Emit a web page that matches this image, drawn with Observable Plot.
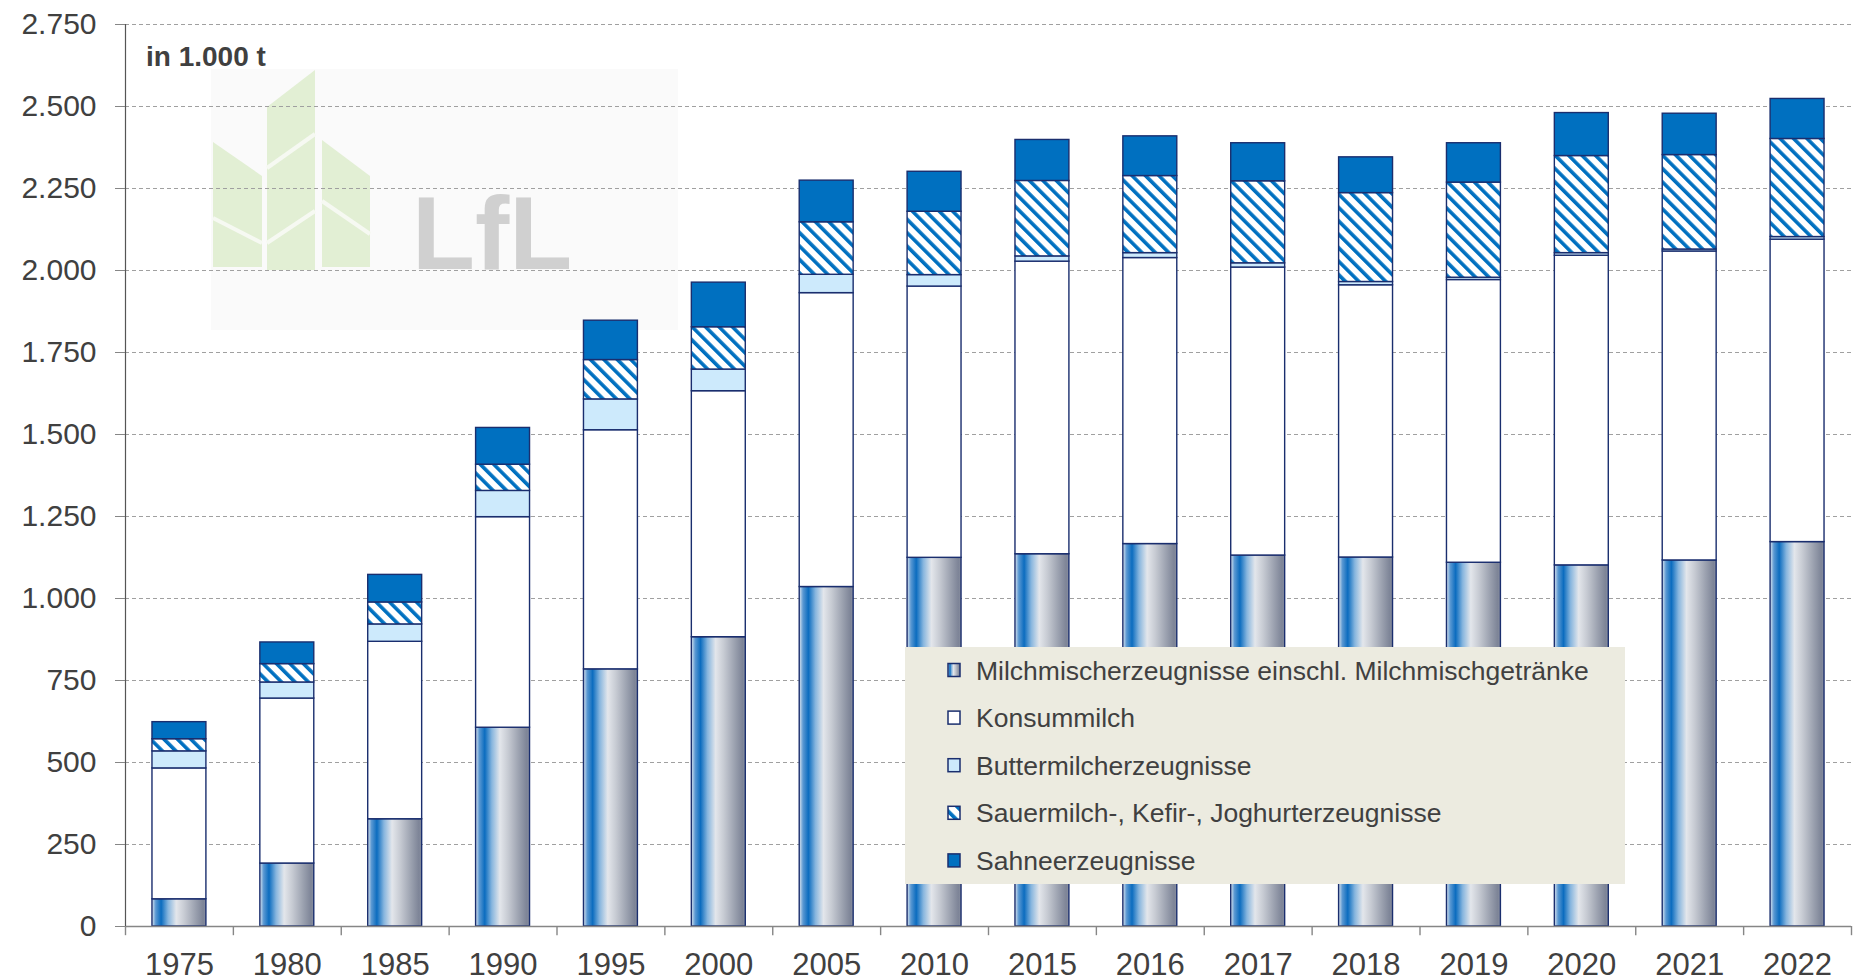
<!DOCTYPE html>
<html>
<head>
<meta charset="utf-8">
<script src="https://cdn.jsdelivr.net/npm/d3@7"></script>
<script src="https://cdn.jsdelivr.net/npm/@observablehq/plot@0.6"></script>
<style>
  html, body { margin: 0; padding: 0; background: #ffffff; }
  #chart { position: relative; width: 1863px; height: 979px; }
  #defs { position: absolute; width: 0; height: 0; overflow: hidden; }
</style>
</head>
<body>
<svg id="defs" width="0" height="0">
  <defs>
    <linearGradient id="cyl" x1="0" x2="1" y1="0" y2="0">
      <stop offset="0%" stop-color="#dfe7f0"/>
      <stop offset="7%" stop-color="#5a98d2"/>
      <stop offset="17%" stop-color="#0b6cbf"/>
      <stop offset="30%" stop-color="#86b5de"/>
      <stop offset="45%" stop-color="#e3e6eb"/>
      <stop offset="60%" stop-color="#c7cbd3"/>
      <stop offset="80%" stop-color="#9ca2b0"/>
      <stop offset="95%" stop-color="#7d8497"/>
      <stop offset="100%" stop-color="#8a90a0"/>
    </linearGradient>
    <pattern id="hatch" patternUnits="userSpaceOnUse" width="9.5" height="9.5" patternTransform="rotate(-45)">
      <rect width="9.5" height="9.5" fill="#ffffff"/>
      <rect width="3.6" height="9.5" fill="#0070c0"/>
    </pattern>
  </defs>
</svg>
<div id="chart"></div>
<script>
const years = ["1975","1980","1985","1990","1995","2000","2005","2010","2015","2016","2017","2018","2019","2020","2021","2022"];
const milchmisch  = [83,192,327,606,784,882,1035,1124,1135,1166,1131,1125,1109,1101,1116,1172];
const konsummilch = [399,503,541,642,729,750,896,827,892,872,878,830,862,944,942,922];
const buttermilch = [52,49,53,80,94,66,56,35,16,15,13,10,7,8,6,8];
const sauermilch  = [37,56,67,80,120,129,160,193,230,235,250,271,290,296,288,299];
const sahne       = [52,66,84,112,120,136,127,122,125,121,116,109,120,131,126,122];
const seriesNames = [
  "Milchmischerzeugnisse einschl. Milchmischgetränke",
  "Konsummilch",
  "Buttermilcherzeugnisse",
  "Sauermilch-, Kefir-, Joghurterzeugnisse",
  "Sahneerzeugnisse"
];
const seriesFills = ["url(#cyl)", "#ffffff", "#cdeafc", "url(#hatch)", "#0070c0"];
const yTicks = [0,250,500,750,1000,1250,1500,1750,2000,2250,2500,2750];
const unitLabel = "in 1.000 t";

const seriesValues = [milchmisch, konsummilch, buttermilch, sauermilch, sahne];
const data = years.flatMap((yr, i) => seriesNames.map((s, j) => ({year: yr, series: s, value: seriesValues[j][i]})));

const W = 1863, H = 979, ML = 125, MR = 12, MT = 24, MB = 53;
const step = (W - ML - MR) / years.length;
const fmt = d => d3.format(",")(d).replace(/,/g, ".");
const navy = "#1a2e6e";
const axisGray = "#868686";
const font = "'Liberation Sans', Arial, sans-serif";

const svgEl = Plot.plot({
  width: W, height: H,
  marginLeft: ML, marginRight: MR, marginTop: MT, marginBottom: MB,
  x: {domain: years, paddingInner: 0.5, paddingOuter: 0.25, round: false, label: null},
  y: {domain: [0, 2750], label: null},
  color: {type: "ordinal", domain: seriesNames, range: seriesFills},
  style: {fontFamily: font, color: "#404040", background: "#ffffff", overflow: "visible"},
  marks: [
    Plot.ruleY(yTicks.slice(1), {stroke: "#a0a0a0", strokeWidth: 1.2, strokeDasharray: "4,3"}),
    Plot.barY(data, {x: "year", y: "value", fill: "series", stroke: navy, strokeWidth: 1.4}),
    Plot.ruleY([0], {stroke: axisGray, strokeWidth: 1.4}),
    Plot.ruleX(years, {x: d => d, dx: -step / 2, y1: 0, y2: -28, stroke: axisGray, strokeWidth: 1.4}),
    Plot.ruleX([years[years.length - 1]], {x: d => d, dx: step / 2, y1: 0, y2: -28, stroke: axisGray, strokeWidth: 1.4}),
    Plot.ruleX([years[0]], {x: d => d, dx: -step / 2, y1: 0, y2: 2750, stroke: "#555555", strokeWidth: 1.2}),
    Plot.axisY({ticks: yTicks, tickSize: 10, tickPadding: 19, fontSize: 30, tickFormat: fmt, stroke: axisGray, fill: "#404040", label: null}),
    Plot.axisX({tickSize: 0, tickPadding: 26, fontSize: 31, fill: "#404040", label: null})
  ]
});
document.getElementById("chart").appendChild(svgEl);

const svg = d3.select(svgEl);

// Watermark (decorative logo) behind everything
const wm = svg.insert("g", ":first-child").attr("class", "watermark");
wm.append("rect").attr("x", 211).attr("y", 69).attr("width", 467).attr("height", 261).attr("fill", "#fafafa");
const leaf = "#e2efd4";
wm.append("polygon").attr("points", "213,142 262,176 262,267 213,267").attr("fill", leaf);
wm.append("polygon").attr("points", "267,107 315,70 315,270 267,270").attr("fill", leaf);
wm.append("polygon").attr("points", "322,140 370,176 370,267 322,267").attr("fill", leaf);
[[213,218,262,243],[267,243,315,211],[267,168,315,134],[322,201,370,234]].forEach(([x1,y1,x2,y2]) =>
  wm.append("line").attr("x1", x1).attr("y1", y1).attr("x2", x2).attr("y2", y2).attr("stroke", "#f6f9f2").attr("stroke-width", 4));
wm.append("text").attr("x", 412).attr("y", 269).attr("text-anchor", "start").attr("font-family", font).attr("font-weight", "bold")
  .attr("font-size", 103).attr("fill", "#d0d0d0").text("LfL");

// Unit label
svg.append("text").attr("x", 146).attr("y", 66).attr("text-anchor", "start").attr("font-family", font).attr("font-weight", "bold")
  .attr("font-size", 28).attr("fill", "#404040").text(unitLabel);

// Legend box
const lg = svg.append("g").attr("class", "legend").attr("text-anchor", "start");
lg.append("rect").attr("x", 905).attr("y", 647).attr("width", 720).attr("height", 237).attr("fill", "#ecebe0");
seriesNames.forEach((name, i) => {
  const cy = 670 + i * 47.6;
  lg.append("rect").attr("x", 948).attr("y", cy - 6.5).attr("width", 12).attr("height", 13)
    .attr("fill", seriesFills[i]).attr("stroke", navy).attr("stroke-width", 1.5);
  lg.append("text").attr("x", 976).attr("y", cy).attr("dy", "0.36em").attr("text-anchor", "start").attr("font-family", font)
    .attr("font-size", 26.5).attr("fill", "#404040").text(name);
});
</script>
</body>
</html>
